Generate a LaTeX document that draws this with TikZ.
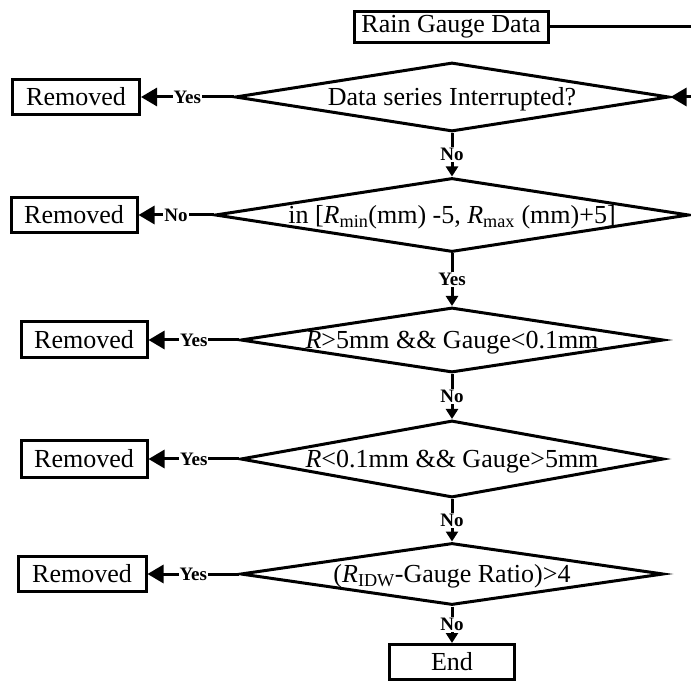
\documentclass[tikz,border=0pt]{standalone}
\usepackage{fontspec}
\setmainfont{Liberation Serif}
\usetikzlibrary{shapes.geometric,arrows.meta}
\newcommand{\dtxt}[1]{\smash{\makebox[0pt]{\raisebox{-0.33em}{#1}}}}
\begin{document}
\begin{tikzpicture}[x=1pt,y=-1pt,
  every node/.style={font=\fontsize{26}{30}\selectfont},
  box/.style={draw, line width=3pt, rectangle, inner sep=0pt},
  dia/.style={draw, line width=3pt, diamond, inner sep=0pt},
  lab/.style={fill=white, inner sep=1pt, font=\fontsize{19}{22}\selectfont\bfseries},
  conn/.style={line width=3pt},
  harr/.style={conn, -{Triangle[length=16pt,width=18pt]}},
  varr/.style={conn, -{Triangle[length=10pt,width=12pt]}}]
\useasboundingbox (0,0) rectangle (691,684);

\node[box, minimum width=194pt, minimum height=31pt] (rg) at (451,27) {Rain Gauge Data};
\coordinate (e1) at (695,27);
\coordinate (e2) at (695,97);

\node[dia, minimum width=434pt, minimum height=69pt] (d1) at (452,97) {\dtxt{Data series Interrupted?}};
\node[dia, minimum width=474pt, minimum height=74pt] (d2) at (452,215) {\dtxt{in [\textit{R}\textsubscript{min}(mm) -5, \textit{R}\textsubscript{max} (mm)+5]}};
\node[dia, minimum width=423pt, minimum height=65pt] (d3) at (452,340) {\dtxt{\textit{R}>5mm \&\& Gauge<0.1mm}};
\node[dia, minimum width=423pt, minimum height=77pt] (d4) at (452,459) {\dtxt{\textit{R}<0.1mm \&\& Gauge>5mm}};
\node[dia, minimum width=423pt, minimum height=62pt] (d5) at (452,574) {\dtxt{(\textit{R}\textsubscript{IDW}-Gauge Ratio)>4}};

\node[box, minimum width=127pt, minimum height=35pt] (r1) at (76,97) {Removed};
\node[box, minimum width=126pt, minimum height=35pt] (r2) at (74,215) {Removed};
\node[box, minimum width=126pt, minimum height=36pt] (r3) at (84,340) {Removed};
\node[box, minimum width=126pt, minimum height=36pt] (r4) at (84,459) {Removed};
\node[box, minimum width=128pt, minimum height=35pt] (r5) at (82,574) {Removed};
\node[box, minimum width=125pt, minimum height=35pt] (end) at (452,662) {End};

\draw[conn] (rg.east) -- (e1);
\draw[harr] (e2) -- (d1.east);

\draw[harr] (d1.west) -- node[lab]{Yes} (r1.east);
\draw[harr] (d2.west) -- node[lab]{No} (r2.east);
\draw[harr] (d3.west) -- node[lab]{Yes} (r3.east);
\draw[harr] (d4.west) -- node[lab]{Yes} (r4.east);
\draw[harr] (d5.west) -- node[lab]{Yes} (r5.east);

\draw[varr] (d1.south) -- node[lab]{No} (d2.north);
\draw[varr] (d2.south) -- node[lab]{Yes} (d3.north);
\draw[varr] (d3.south) -- node[lab]{No} (d4.north);
\draw[varr] (d4.south) -- node[lab]{No} (d5.north);
\draw[varr] (d5.south) -- node[lab]{No} (end.north);
\end{tikzpicture}
\end{document}
